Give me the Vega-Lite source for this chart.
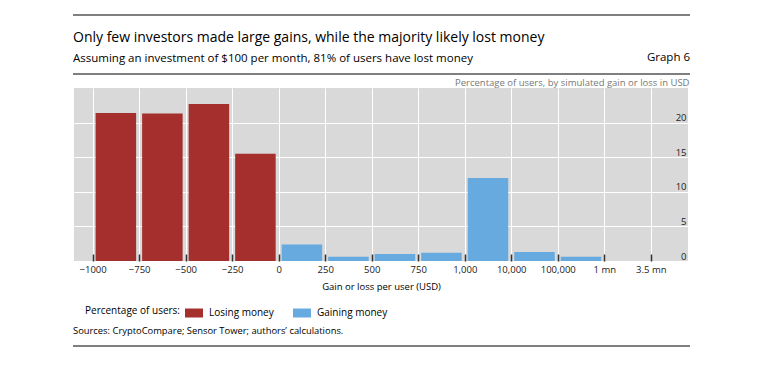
{
  "$schema": "https://vega.github.io/schema/vega-lite/v6.json",
  "width": 614,
  "height": 173,
  "autosize": {"type": "none"},
  "padding": {"left": 74, "top": 88, "right": 96, "bottom": 116},
  "background": "white",
  "config": {
    "font": "Open Sans",
    "view": {"stroke": null, "fill": "#d9d9d9"}
  },
  "title": {
    "text": "Only few investors made large gains, while the majority likely lost money",
    "subtitle": "Assuming an investment of $100 per month, 81% of users have lost money",
    "anchor": "start",
    "frame": "group",
    "offset": -50,
    "dx": -1,
    "fontSize": 14,
    "fontWeight": "normal",
    "color": "#000000",
    "subtitleFontSize": 11.5,
    "subtitleColor": "#000000",
    "subtitlePadding": 8
  },
  "layer": [
    {
      "data": {
        "values": [
          {"bin": "-1000 to -750", "lo": 0, "hi": 1, "pct": 21.4, "group": "Losing money"},
          {"bin": "-750 to -500", "lo": 1, "hi": 2, "pct": 21.3, "group": "Losing money"},
          {"bin": "-500 to -250", "lo": 2, "hi": 3, "pct": 22.7, "group": "Losing money"},
          {"bin": "-250 to 0", "lo": 3, "hi": 4, "pct": 15.5, "group": "Losing money"},
          {"bin": "0 to 250", "lo": 4, "hi": 5, "pct": 2.4, "group": "Gaining money"},
          {"bin": "250 to 500", "lo": 5, "hi": 6, "pct": 0.6, "group": "Gaining money"},
          {"bin": "500 to 750", "lo": 6, "hi": 7, "pct": 1.0, "group": "Gaining money"},
          {"bin": "750 to 1,000", "lo": 7, "hi": 8, "pct": 1.2, "group": "Gaining money"},
          {"bin": "1,000 to 10,000", "lo": 8, "hi": 9, "pct": 12.0, "group": "Gaining money"},
          {"bin": "10,000 to 100,000", "lo": 9, "hi": 10, "pct": 1.3, "group": "Gaining money"},
          {"bin": "100,000 to 1 mn", "lo": 10, "hi": 11, "pct": 0.6, "group": "Gaining money"},
          {"bin": "1 mn to 3.5 mn", "lo": 11, "hi": 12, "pct": 0, "group": "Gaining money"}
        ]
      },
      "mark": {"type": "bar", "xOffset": 3, "x2Offset": -3},
      "encoding": {
        "x": {
          "field": "lo",
          "type": "quantitative",
          "scale": {"domain": [-0.4, 12.8], "nice": false, "zero": false},
          "axis": {
            "values": [0, 1, 2, 3, 4, 5, 6, 7, 8, 9, 10, 11, 12],
            "labelExpr": "['−1000','−750','−500','−250','0','250','500','750','1,000','10,000','100,000','1 mn','3.5 mn'][datum.value]",
            "grid": true,
            "gridColor": "#ffffff",
            "gridWidth": 1,
            "gridOpacity": 1,
            "domain": false,
            "ticks": true,
            "tickSize": -7,
            "tickColor": "#333333",
            "tickWidth": 1.5,
            "labelPadding": 10,
            "labelFontSize": 9.5,
            "labelColor": "#222222",
            "title": "Gain or loss per user (USD)",
            "titleFontSize": 9.5,
            "titleFontWeight": "normal",
            "titleColor": "#000000",
            "titlePadding": 8
          }
        },
        "x2": {"field": "hi"},
        "y": {
          "field": "pct",
          "type": "quantitative",
          "scale": {"domain": [0, 25], "nice": false},
          "axis": {
            "orient": "right",
            "values": [0, 5, 10, 15, 20],
            "grid": true,
            "gridColor": "#ffffff",
            "gridWidth": 1,
            "gridOpacity": 1,
            "domain": false,
            "ticks": false,
            "labelAlign": "right",
            "labelPadding": -2,
            "labelBaseline": "alphabetic",
            "labelOffset": -2,
            "labelFontSize": 9.5,
            "labelColor": "#222222",
            "title": "Percentage of users, by simulated gain or loss in USD",
            "titleAngle": 0,
            "titleAlign": "right",
            "titleBaseline": "middle",
            "titleX": 1,
            "titleY": -6,
            "titleFontSize": 9.5,
            "titleFontWeight": "normal",
            "titleColor": "#777777"
          }
        },
        "y2": {"datum": 0},
        "color": {
          "field": "group",
          "type": "nominal",
          "scale": {"domain": ["Losing money", "Gaining money"], "range": ["#a52f2c", "#66aadf"]},
          "legend": {
            "orient": "none",
            "legendX": 11,
            "legendY": 216,
            "direction": "horizontal",
            "title": "Percentage of users:",
            "titleOrient": "left",
            "titleFontSize": 10,
            "titleFontWeight": "normal",
            "titleColor": "#000000",
            "titlePadding": 5,
            "titleBaseline": "middle",
            "symbolType": "M-1,-0.5H1V0.5H-1Z",
            "symbolSize": 324,
            "symbolStrokeWidth": 0,
            "symbolOpacity": 1,
            "labelFontSize": 10,
            "labelColor": "#000000",
            "labelOffset": 6,
            "columnPadding": 19
          }
        }
      }
    },
    {
      "data": {"values": [{}]},
      "mark": {"type": "rule", "color": "#000000", "strokeWidth": 1.2},
      "encoding": {
        "x": {"datum": -0.4215, "type": "quantitative"},
        "x2": {"datum": 12.843},
        "y": {"datum": 35.55, "type": "quantitative"}
      }
    },
    {
      "data": {"values": [{}]},
      "mark": {"type": "rule", "color": "#000000", "strokeWidth": 1.2},
      "encoding": {
        "x": {"datum": -0.4215, "type": "quantitative"},
        "x2": {"datum": 12.843},
        "y": {"datum": 27.02, "type": "quantitative"}
      }
    },
    {
      "data": {"values": [{}]},
      "mark": {"type": "rule", "color": "#000000", "strokeWidth": 1.2},
      "encoding": {
        "x": {"datum": -0.4215, "type": "quantitative"},
        "x2": {"datum": 12.843},
        "y": {"datum": -12.28, "type": "quantitative"}
      }
    },
    {
      "data": {"values": [{}]},
      "mark": {"type": "text", "align": "right", "baseline": "middle", "fontSize": 11.5, "color": "#000000"},
      "encoding": {
        "x": {"datum": 12.843, "type": "quantitative"},
        "y": {"datum": 29.34, "type": "quantitative"},
        "text": {"value": "Graph 6"}
      }
    },
    {
      "data": {"values": [{}]},
      "mark": {"type": "text", "align": "left", "baseline": "middle", "fontSize": 9.4, "color": "#000000"},
      "encoding": {
        "x": {"datum": -0.4215, "type": "quantitative"},
        "y": {"datum": -10.12, "type": "quantitative"},
        "text": {"value": "Sources: CryptoCompare; Sensor Tower; authors’ calculations."}
      }
    }
  ]
}
